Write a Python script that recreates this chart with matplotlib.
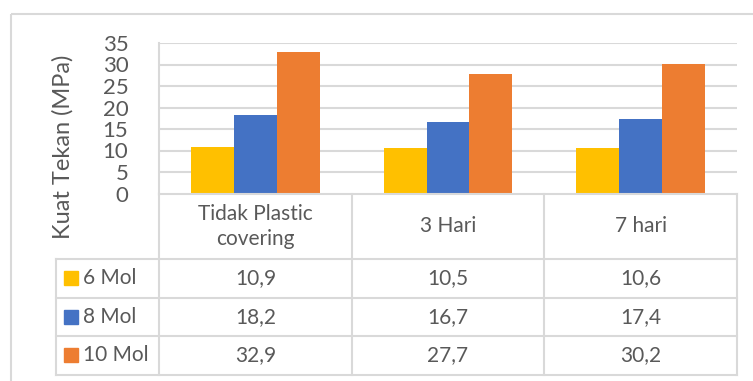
import matplotlib.pyplot as plt
from matplotlib.lines import Line2D
from matplotlib.patches import Rectangle

# data
categories = ["Tidak Plastic\ncovering", "3 Hari", "7 hari"]
series_names = ["6 Mol", "8 Mol", "10 Mol"]
mol6 = [10.9, 10.5, 10.6]
mol8 = [18.2, 16.7, 17.4]
mol10 = [32.9, 27.7, 30.2]
series_values = [mol6, mol8, mol10]
y_ticks = [0, 5, 10, 15, 20, 25, 30, 35]

colors = ["#FFC000", "#4472C4", "#ED7D31"]
grid_c = "#D9D9D9"
text_c = "#595959"
font = "Lato"

W, H = 753, 381
fig = plt.figure(figsize=(W / 100, H / 100), dpi=100)
fig.patch.set_facecolor("white")

# layout in pixels
px_left, px_right = 159, 737
px_top, px_zero = 43, 193.5
legend_left = 56
row_lines = [259, 297.5, 336, 374.5]

ax = fig.add_axes([px_left / W, 1 - px_zero / H,
                   (px_right - px_left) / W, (px_zero - px_top) / H])
n = len(categories)
bw = 43 / 193
for i, vals in enumerate(series_values):
    xs = [k + (i - 1) * bw for k in range(n)]
    ax.bar(xs, vals, width=bw, color=colors[i], zorder=3)
ax.set_xlim(-0.5, n - 0.5)
ax.set_ylim(0, 35)
ax.set_yticks(y_ticks)
ax.set_yticklabels([str(t) for t in y_ticks], fontsize=16, color=text_c,
                   family=font)
ax.tick_params(axis="y", length=0, pad=22)
ax.set_xticks([])
for t in y_ticks[1:]:
    ax.axhline(t, color=grid_c, lw=1.5, zorder=1)
for s in ["top", "right", "bottom"]:
    ax.spines[s].set_visible(False)
ax.spines["left"].set_color(grid_c)
ax.spines["left"].set_linewidth(1.5)

# overlay in pixel coordinates for the frame and the data table
ov = fig.add_axes([0, 0, 1, 1], zorder=-1)
ov.set_xlim(0, W)
ov.set_ylim(H, 0)
ov.axis("off")
ov2 = fig.add_axes([0, 0, 1, 1])
ov2.set_xlim(0, W)
ov2.set_ylim(H, 0)
ov2.axis("off")
ov2.patch.set_alpha(0)

# chart frame
ov.add_patch(Rectangle((11, 14), 800, 400, fill=False, ec=grid_c, lw=1.5))

col_lines = [px_left + k * (px_right - px_left) / n for k in range(n + 1)]


def hline(y, x0, x1):
    ov2.add_line(Line2D([x0, x1], [y, y], color=grid_c, lw=1.5))


def vline(x, y0, y1):
    ov2.add_line(Line2D([x, x], [y0, y1], color=grid_c, lw=1.5))


hline(px_zero, px_left, px_right)
for y in row_lines:
    hline(y, legend_left, px_right)
for x in col_lines:
    vline(x, px_zero, row_lines[-1])
vline(legend_left, row_lines[0], row_lines[-1])

# header cells
for k, cat in enumerate(categories):
    cx = (col_lines[k] + col_lines[k + 1]) / 2
    ov2.text(cx, (px_zero + row_lines[0]) / 2, cat, ha="center", va="center",
             fontsize=15, color=text_c, family=font, linespacing=1.3)

# value rows
for i, name in enumerate(series_names):
    cy = (row_lines[i] + row_lines[i + 1]) / 2
    ov2.add_patch(Rectangle((64, cy - 7), 14, 14, color=colors[i]))
    ov2.text(83, cy, name, ha="left", va="center", fontsize=15,
             color=text_c, family=font)
    for k in range(n):
        cx = (col_lines[k] + col_lines[k + 1]) / 2
        ov2.text(cx, cy, f"{series_values[i][k]:.1f}".replace(".", ","),
                 ha="center", va="center", fontsize=15, color=text_c,
                 family=font)

# axis title
ov2.text(63, 147, "Kuat Tekan (MPa)", rotation=90, ha="center", va="center",
         fontsize=17, color=text_c, family=font)

fig.savefig("out.png", dpi=100)
